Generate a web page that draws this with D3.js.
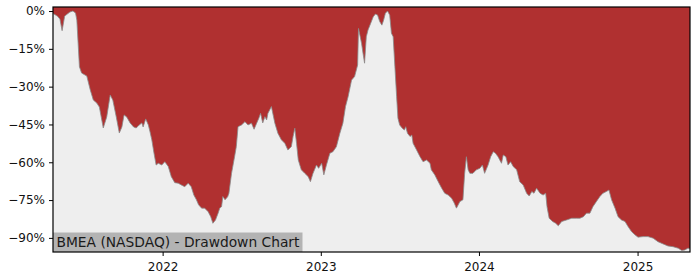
<!DOCTYPE html>
<html>
<head>
<meta charset="utf-8">
<script src="https://cdn.jsdelivr.net/npm/d3@7"></script>
<style>
  body { margin: 0; background: #ffffff; }
  text { font-family: "DejaVu Sans", sans-serif; }
</style>
</head>
<body>
<div id="chart"></div>
<script>
var w = 700;
var h = 280;

// drawdown readings (date, % below running peak)
var dates = [
  '2021-04-23','2021-05-03','2021-05-09','2021-05-14','2021-05-20','2021-06-01','2021-06-08','2021-06-14',
  '2021-06-17','2021-06-23','2021-06-28','2021-07-10','2021-07-18','2021-07-25','2021-08-02','2021-08-08',
  '2021-08-17','2021-08-25','2021-09-02','2021-09-08','2021-09-16','2021-09-23','2021-09-29','2021-10-04',
  '2021-10-10','2021-10-18','2021-10-26','2021-11-01','2021-11-08','2021-11-14','2021-11-17','2021-11-23',
  '2021-11-29','2021-12-03','2021-12-07','2021-12-12','2021-12-17','2021-12-22','2021-12-30','2022-01-06',
  '2022-01-14','2022-01-21','2022-01-29','2022-02-06','2022-02-13','2022-02-21','2022-03-01','2022-03-08',
  '2022-03-14','2022-03-20','2022-03-25','2022-04-01','2022-04-08','2022-04-16','2022-04-22','2022-04-27',
  '2022-05-03','2022-05-09','2022-05-13','2022-05-17','2022-05-20','2022-05-25','2022-05-31','2022-06-03',
  '2022-06-09','2022-06-16','2022-06-20','2022-06-24','2022-07-02','2022-07-10','2022-07-17','2022-07-25',
  '2022-07-31','2022-08-06','2022-08-11','2022-08-15','2022-08-20','2022-08-25','2022-08-29','2022-09-01',
  '2022-09-09','2022-09-17','2022-09-24','2022-10-02','2022-10-10','2022-10-17','2022-10-25','2022-10-29',
  '2022-11-02','2022-11-06','2022-11-10','2022-11-17','2022-11-25','2022-12-03','2022-12-08','2022-12-14',
  '2022-12-22','2022-12-27','2023-01-03','2023-01-08','2023-01-14','2023-01-22','2023-01-29','2023-02-06',
  '2023-02-14','2023-02-21','2023-02-27','2023-03-05','2023-03-13','2023-03-20','2023-03-27','2023-03-29',
  '2023-04-05','2023-04-09','2023-04-12','2023-04-16','2023-04-20','2023-04-26','2023-05-02','2023-05-07',
  '2023-05-12','2023-05-17','2023-05-22','2023-05-26','2023-05-30','2023-06-04','2023-06-09','2023-06-13',
  '2023-06-17','2023-06-21','2023-06-25','2023-06-28','2023-07-02','2023-07-08','2023-07-13','2023-07-16',
  '2023-07-20','2023-07-26','2023-07-30','2023-08-02','2023-08-10','2023-08-18','2023-08-25','2023-09-02',
  '2023-09-10','2023-09-13','2023-09-21','2023-09-29','2023-10-07','2023-10-14','2023-10-22','2023-10-30',
  '2023-11-05','2023-11-10','2023-11-18','2023-11-25','2023-11-29','2023-12-03','2023-12-07','2023-12-11',
  '2023-12-18','2023-12-26','2024-01-03','2024-01-09','2024-01-14','2024-01-22','2024-01-28','2024-02-03',
  '2024-02-08','2024-02-14','2024-02-22','2024-02-26','2024-03-03','2024-03-08','2024-03-14','2024-03-20',
  '2024-03-28','2024-04-04','2024-04-12','2024-04-20','2024-04-26','2024-05-02','2024-05-07','2024-05-13',
  '2024-05-21','2024-05-28','2024-06-03','2024-06-06','2024-06-11','2024-06-19','2024-06-26','2024-07-02',
  '2024-07-10','2024-07-21','2024-08-02','2024-08-13','2024-08-21','2024-08-29','2024-09-05','2024-09-13',
  '2024-09-20','2024-09-28','2024-10-06','2024-10-13','2024-10-21','2024-10-27','2024-11-02','2024-11-10',
  '2024-11-17','2024-11-25','2024-12-03','2024-12-10','2024-12-18','2024-12-26','2025-01-02','2025-01-14',
  '2025-01-25','2025-02-06','2025-02-17','2025-03-01','2025-03-12','2025-03-24','2025-04-05','2025-04-13',
  '2025-04-20','2025-04-27','2025-05-02'
];
var drawdown = [
  -1.0, -2.0, -3.2, -7.8, -2.0, -0.4, 0.0, -0.8,
  -3.6, -22.1, -24.6, -25.8, -31.3, -35.3, -36.5, -38.1,
  -46.4, -42.0, -33.3, -35.3, -42.0, -48.4, -46.0, -41.2,
  -42.0, -44.4, -46.0, -46.4, -45.2, -44.4, -46.0, -42.8,
  -45.2, -48.0, -51.1, -56.3, -61.1, -60.4, -61.1, -59.8,
  -61.7, -65.7, -68.1, -68.3, -69.0, -69.7, -68.3, -69.7,
  -73.0, -74.9, -76.9, -78.2, -78.2, -79.6, -81.6, -84.2,
  -82.9, -80.2, -78.1, -77.6, -73.6, -74.9, -73.7, -72.3,
  -64.4, -57.8, -53.8, -45.9, -45.2, -43.9, -45.2, -44.5,
  -46.9, -44.5, -42.5, -40.6, -44.4, -41.9, -43.2, -40.6,
  -37.9, -44.5, -48.5, -51.1, -52.5, -55.1, -53.8, -49.8,
  -46.5, -52.5, -59.1, -63.0, -64.4, -65.7, -67.7, -64.4,
  -61.1, -62.4, -60.4, -65.0, -61.1, -56.4, -55.8, -53.8,
  -48.5, -44.5, -37.9, -34.0, -27.4, -26.0, -21.4, -6.9,
  -12.8, -17.4, -20.7, -10.2, -7.5, -4.9, -2.3, -1.2,
  -1.6, -4.2, -5.6, -3.6, -0.9, 0.0, -1.6, -8.8,
  -10.2, -22.1, -34.0, -42.5, -45.2, -46.5, -47.2, -45.9,
  -48.5, -49.8, -49.2, -52.5, -55.1, -57.8, -59.8, -59.1,
  -60.4, -63.0, -65.0, -67.7, -70.3, -72.3, -73.0, -74.3,
  -76.2, -78.2, -75.6, -74.9, -64.4, -57.8, -63.0, -64.4,
  -64.4, -63.0, -62.4, -61.1, -64.4, -61.1, -57.8, -55.8,
  -56.4, -57.8, -60.4, -57.1, -57.8, -61.1, -59.8, -61.7,
  -63.0, -67.7, -69.0, -72.3, -73.4, -71.6, -72.3, -70.3,
  -72.3, -73.0, -72.3, -77.6, -82.2, -83.5, -84.2, -85.2,
  -83.5, -82.9, -82.2, -82.2, -82.2, -81.6, -80.2, -80.2,
  -77.6, -75.6, -73.6, -72.3, -71.6, -71.0, -74.9, -78.2,
  -81.6, -82.9, -83.5, -85.5, -87.5, -88.8, -89.7, -89.5,
  -89.5, -90.1, -91.5, -92.4, -93.2, -93.5, -94.1, -95.0,
  -94.8, -94.1, -94.2
];
var yTicks = [0, -15, -30, -45, -60, -75, -90];
var xTicks = ['2022-01-01', '2023-01-01', '2024-01-01', '2025-01-01'];
var title = 'BMEA (NASDAQ) - Drawdown Chart';

var parseDate = d3.timeParse('%Y-%m-%d');
var data = dates.map(function(d, i) {
  return { date: parseDate(d), dd: drawdown[i] };
});

var margin = { top: 7, right: 10, bottom: 28, left: 53 };
var iw = w - margin.left - margin.right;
var ih = h - margin.top - margin.bottom;

var svg = d3.select('#chart')
  .append('svg')
    .attr('width', w)
    .attr('height', h);

var g = svg.append('g')
  .attr('transform', 'translate(' + margin.left + ',' + margin.top + ')');

var x = d3.scaleTime()
  .domain(d3.extent(data, function(d) { return d.date; }))
  .range([0, iw]);
var y = d3.scaleLinear()
  .domain([-95.6, 1.6])
  .range([ih, 0]);

// light background
g.append('rect')
  .attr('width', iw)
  .attr('height', ih)
  .style('fill', '#eeeeee');

// red area from the drawdown up to the top of the plot
var area = d3.area()
  .x(function(d) { return x(d.date); })
  .y0(0)
  .y1(function(d) { return y(d.dd); });
g.append('path')
  .datum(data)
  .attr('d', area)
  .style('fill', '#b03030');

var line = d3.line()
  .x(function(d) { return x(d.date); })
  .y(function(d) { return y(d.dd); });
g.append('path')
  .datum(data)
  .attr('d', line)
  .style('fill', 'none')
  .style('stroke', '#8a8a8a')
  .style('stroke-width', 0.8);

// title box in the lower left corner
var label = g.append('g');
label.append('rect')
  .attr('x', 0)
  .attr('y', ih - 19.5)
  .attr('width', 249.5)
  .attr('height', 19.5)
  .style('fill', '#b3b3b3');
label.append('text')
  .attr('x', 3.5)
  .attr('y', ih - 5.5)
  .style('font-size', '13.8px')
  .style('fill', '#1a1a1a')
  .text(title);

// axes
var yAxis = d3.axisLeft(y)
  .tickValues(yTicks)
  .tickSize(4)
  .tickPadding(4)
  .tickFormat(function(d) { return (d < 0 ? '\u2212' + (-d) : d) + '%'; });
var xAxis = d3.axisBottom(x)
  .tickValues(xTicks.map(parseDate))
  .tickSize(4)
  .tickPadding(6)
  .tickFormat(d3.timeFormat('%Y'));

var ya = g.append('g').call(yAxis);
var xa = g.append('g')
  .attr('transform', 'translate(0,' + ih + ')')
  .call(xAxis);
[ya, xa].forEach(function(a) {
  a.select('.domain').remove();
  a.selectAll('.tick line').style('stroke', '#000').style('stroke-width', 1);
  a.selectAll('.tick text')
    .style('font-family', '"DejaVu Sans", sans-serif')
    .style('font-size', '12px')
    .style('fill', '#111');
});

// frame
g.append('rect')
  .attr('width', iw)
  .attr('height', ih)
  .style('fill', 'none')
  .style('stroke', '#000')
  .style('stroke-width', 1.2);
</script>
</body>
</html>
